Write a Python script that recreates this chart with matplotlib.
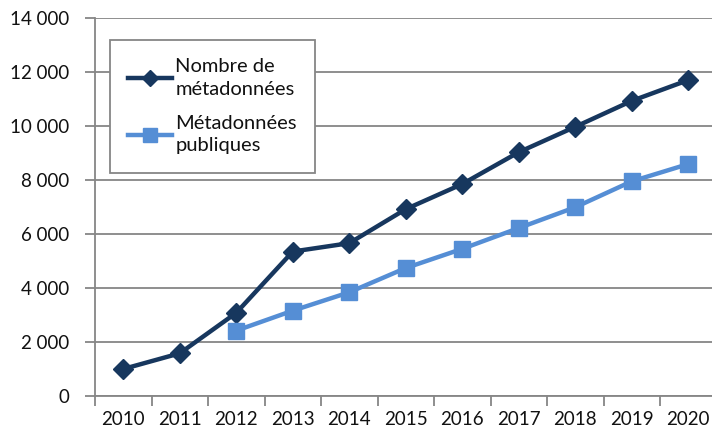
import matplotlib.pyplot as plt
from matplotlib.ticker import FuncFormatter

# données
annees = ['2010', '2011', '2012', '2013', '2014', '2015',
          '2016', '2017', '2018', '2019', '2020']
nb_metadonnees = [1000, 1580, 3080, 5350, 5660, 6920, 7850, 9030, 9970, 10930, 11700]
annees_pub = ['2012', '2013', '2014', '2015', '2016', '2017', '2018', '2019', '2020']
metadonnees_pub = [2420, 3160, 3840, 4740, 5450, 6220, 6990, 7950, 8590]

plt.rcParams['font.family'] = ['Lato', 'DejaVu Sans']
fs = 13.5

fig = plt.figure(figsize=(7.12, 4.37), dpi=100)
# l'axe déborde un peu à droite comme dans l'original
ax = fig.add_axes([95 / 712, 1 - 396 / 437, 621.5 / 712, 378 / 437])

idx = list(range(len(annees)))
idx_pub = [annees.index(a) for a in annees_pub]

ax.plot(idx, nb_metadonnees, color='#17375E', lw=3.2, marker='D', ms=10.5,
        label='Nombre de\nmétadonnées', zorder=3)
ax.plot(idx_pub, metadonnees_pub, color='#558ED5', lw=3.2, marker='s', ms=11,
        label='Métadonnées\npubliques', zorder=3)

ax.set_xlim(-0.5, len(annees) - 0.5)
ax.set_ylim(0, 14000)
ax.set_yticks(range(0, 14001, 2000))
ax.yaxis.set_major_formatter(FuncFormatter(lambda v, p: f'{int(v):,}'.replace(',', ' ')))

# graduations entre les catégories, étiquettes au centre
ax.set_xticks([i - 0.5 for i in idx] + [len(annees) - 0.5])
ax.set_xticklabels([])
ax.set_xticks(idx, minor=True)
ax.set_xticklabels(annees, minor=True)
ax.tick_params(axis='x', which='minor', length=0, pad=11, labelsize=fs, colors='#111111')
ax.tick_params(axis='x', which='major', length=7, width=1.3, color='#868686')
ax.tick_params(axis='y', length=7, width=1.3, color='#868686', labelsize=fs,
               labelcolor='#111111', pad=11.5)

ax.grid(axis='y', color='#868686', lw=1.3)
ax.set_axisbelow(True)
for s in ['top', 'right']:
    ax.spines[s].set_visible(False)
for s in ['left', 'bottom']:
    ax.spines[s].set_color('#868686')
    ax.spines[s].set_linewidth(1.3)

leg = ax.legend(loc='upper left', bbox_to_anchor=(110 / 712, 1 - 40 / 437),
                bbox_transform=fig.transFigure, fontsize=14.5, handlelength=2.2,
                handletextpad=0.15, labelspacing=0.85, borderpad=0.9, borderaxespad=0,
                fancybox=False, framealpha=1, edgecolor='#868686')
leg.get_frame().set_linewidth(1.3)
for t in leg.get_texts():
    t.set_linespacing(1.4)
    t.set_color('#111111')
# marqueurs plus petits dans la légende
leg.legend_handles[0].set_markersize(8.5)
leg.legend_handles[1].set_markersize(9.5)

fig.savefig('out.png', dpi=100)
